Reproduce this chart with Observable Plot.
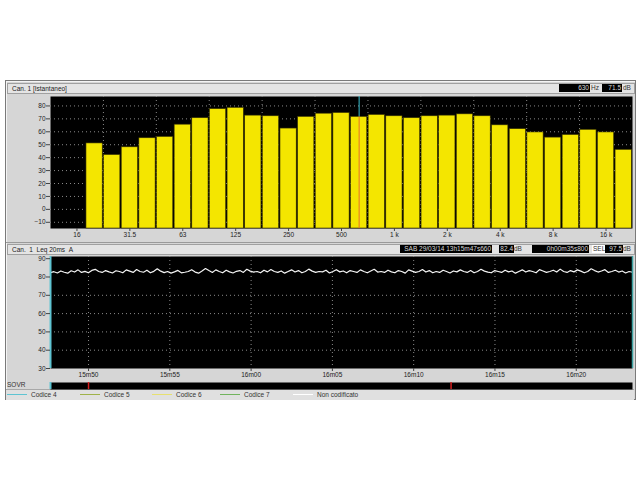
<!DOCTYPE html>
<html><head><meta charset="utf-8">
<script src="https://cdn.jsdelivr.net/npm/d3@7"></script>
<script src="https://cdn.jsdelivr.net/npm/@observablehq/plot@0.6"></script>
<style>
body{margin:0;background:#fff;width:640px;height:480px;overflow:hidden;position:relative;font-family:"Liberation Sans",Arial,sans-serif;color:#222;}
.abs{position:absolute;}
#win{left:5px;top:80px;width:629px;height:318px;background:#d6d6d6;border:1px solid #7a7a7a;box-shadow:inset 1px 1px 0 #f4f4f4;}
.hdr{height:9px;background:#e4e4e4;border:1px solid #a0a0a0;font-size:6.5px;line-height:9px;padding-left:4px;box-sizing:content-box;}
.box{background:#000;color:#d8d8d8;font-size:6.5px;line-height:8px;height:8px;text-align:right;padding-right:1px;box-sizing:border-box;}
.lbl{font-size:6.5px;line-height:8px;color:#333;}
.sep{left:6px;width:629px;height:1px;background:#9a9a9a;}
.leg{top:390px;height:9px;font-size:6.5px;line-height:9px;color:#333;}
.ln{height:1px;top:394px;}
</style>
</head><body>
<div id="win" class="abs"></div>
<div class="abs hdr" style="left:7px;top:83px;width:622px;">Can. 1 [Istantaneo]</div>
<div class="abs box" style="left:559px;top:84px;width:31px;">630</div>
<div class="abs lbl" style="left:591px;top:84px;">Hz</div>
<div class="abs box" style="left:602px;top:84px;width:20px;">71.5</div>
<div class="abs lbl" style="left:623px;top:84px;">dB</div>
<div class="abs sep" style="top:242px;"></div>
<div class="abs hdr" style="left:7px;top:244px;width:622px;">Can.&nbsp; 1 &nbsp;Leq 20ms &nbsp;A</div>
<div class="abs box" style="left:400px;top:245px;width:92px;">SAB 29/03/14 13h15m47s660</div>
<div class="abs box" style="left:499px;top:245px;width:15px;">82.4</div>
<div class="abs lbl" style="left:514px;top:245px;">dB</div>
<div class="abs box" style="left:532px;top:245px;width:57px;">0h00m35s800</div>
<div class="abs lbl" style="left:592px;top:245px;background:#fff;padding:0 1px;">SEL</div>
<div class="abs box" style="left:605px;top:245px;width:18px;">97.5</div>
<div class="abs lbl" style="left:623px;top:245px;">dB</div>
<div class="abs lbl" style="left:7px;top:381px;">SOVR</div>
<div class="abs" style="left:6px;top:389px;width:628px;height:10px;background:#e0e0e0;border-top:1px solid #a8a8a8;"></div>
<div id="legend"></div>
<div id="top" class="abs" style="left:5px;top:95px;"></div>
<div id="bottom" class="abs" style="left:5px;top:254px;"></div>
<div id="sovr" class="abs" style="left:5px;top:381px;"></div>
<script>
// ---- spectrum (1/3 octave) ----
const bands = ["12.5","16","20","25","31.5","40","50","63","80","100","125","160","200","250","315","400","500","630","800","1k","1.25k","1.6k","2k","2.5k","3.15k","4k","5k","6.3k","8k","10k","12.5k","16k","20k"];
const spectrumBands = ["20","25","31.5","40","50","63","80","100","125","160","200","250","315","400","500","630","800","1k","1.25k","1.6k","2k","2.5k","3.15k","4k","5k","6.3k","8k","10k","12.5k","16k","20k"];
const spectrumLevels = [51,42,48,55,56,65.5,70.5,77.5,78.5,72.5,72,62.5,71.5,74,74.5,71.5,73,72,70.5,72,72.5,73.5,72,65,62,59.5,55.5,57.5,61.5,59.5,46];
const freqTickBands = ["16","31.5","63","125","250","500","1k","2k","4k","8k","16k"];
const freqTickLabels = ["16","31.5","63","125","250","500","1 k","2 k","4 k","8 k","16 k"];
const freqGridBands = ["25","50","100","200","400","800","1.6k","3.15k","6.3k","12.5k"];
const levelTicks = [80,70,60,50,40,30,20,10,0,-10];
const levelDomain = [-14.8, 87.3];
const cursorBand = "630";
const cursorLevel = 71.5;

// ---- Leq 20ms time history ----
const leqStart = 47.66;      // seconds after 13h15m00s
const leqDuration = 35.8;
const leqValues = [
82.4,82.9,82.2,83.3,82.6,82.1,83.4,82.7,83.9,82.5,83.1,82.3,83.6,84.2,83.0,82.5,83.5,82.8,82.2,83.4,
83.0,82.3,83.9,83.2,82.5,84.1,83.0,82.6,83.7,82.3,83.1,84.5,83.2,82.4,83.0,82.1,82.8,83.6,82.3,82.6,
83.0,84.0,82.7,82.1,83.3,84.6,83.5,82.5,83.9,83.0,82.3,83.7,82.8,82.2,83.1,83.5,82.5,84.2,83.2,82.7,
83.0,82.3,83.7,82.8,84.1,83.0,82.5,83.3,82.1,83.0,83.9,82.7,83.5,82.3,83.0,84.3,83.2,82.5,83.0,82.8,
83.7,82.2,83.0,84.0,82.8,83.3,82.3,83.5,83.0,82.5,83.9,83.0,82.3,83.3,84.2,82.7,83.0,82.5,83.7,82.8,
82.3,83.5,83.0,82.1,83.9,83.2,82.5,83.0,84.1,82.7,83.5,82.3,83.0,82.5,83.7,83.0,82.2,83.3,82.8,83.9,
83.0,82.5,83.5,82.3,83.0,84.2,83.2,82.7,82.3,83.5,83.0,82.5,83.7,82.8,83.3,82.1,83.0,83.9,82.7,83.5,
83.0,82.3,84.0,83.3,82.5,83.0,83.7,82.7,84.3,83.0,82.5,83.5,82.8,83.9,83.2,82.3,83.0,84.5,83.5,82.7,
83.3,84.0,82.5,83.0,83.7,82.7,83.3,82.2,83.0,82.6];
const timeTicks = [50,55,60,65,70,75,80];
const timeTickLabels = ["15m50","15m55","16m00","16m05","16m10","16m15","16m20"];
const leqTicks = [90,80,70,60,50,40,30];
const leqGrid = [70,60,50,40];
const leqDomain = [30, 91.2];
const sovrTimes = [50.0, 72.3];

// ---- legend ----
const legendNames = ["Codice 4","Codice 5","Codice 6","Codice 7","Non codificato"];
const legendColors = ["#5ec4d2","#9fb24a","#e6e070","#72b45e","#ffffff"];

const font = {fontFamily:"Liberation Sans, Arial, sans-serif", fontSize:"6.5px", background:"transparent", color:"#222", overflow:"visible"};
const W = 631;

// Top: spectrum
const spec = spectrumBands.map((b, k) => ({i: bands.indexOf(b), v: spectrumLevels[k]}));
const ci = bands.indexOf(cursorBand);
const topPlot = Plot.plot({
  width: W, height: 147, marginLeft: 45, marginRight: 4, marginTop: 1, marginBottom: 14,
  style: font,
  x: {domain: [-0.5, bands.length - 0.5], label: null},
  y: {domain: levelDomain, label: null},
  marks: [
    Plot.frame({fill: "#000", stroke: null}),
    Plot.gridY(levelTicks, {stroke: "#8a8a8a", strokeOpacity: 1, strokeDasharray: "1,3"}),
    Plot.gridX(freqGridBands.map(b => bands.indexOf(b) - 0.5), {stroke: "#8a8a8a", strokeOpacity: 1, strokeDasharray: "1,3"}),
    Plot.rectY(spec, {x1: d => d.i - 0.46, x2: d => d.i + 0.46, y1: levelDomain[0], y2: "v", fill: "#f4e600", stroke: "#3a3500", strokeWidth: 0.6}),
    Plot.ruleX([ci], {y1: cursorLevel, y2: levelDomain[1], stroke: "#3cc0d0", strokeWidth: 1}),
    Plot.ruleX([ci], {y1: levelDomain[0], y2: cursorLevel, stroke: "#e8702a", strokeWidth: 1}),
    Plot.axisY(levelTicks, {tickSize: 4, tickPadding: 1, stroke: "#444", label: null}),
    Plot.axisX(freqTickBands.map(b => bands.indexOf(b)), {tickSize: 3, tickPadding: 1, stroke: "#444", label: null,
      tickFormat: d => freqTickLabels[freqTickBands.indexOf(bands[d])]})
  ]
});
document.getElementById("top").appendChild(topPlot);

// Bottom: Leq time history
const step = leqDuration / (leqValues.length - 1);
const leq = leqValues.map((v, k) => ({t: leqStart + k * step, v}));
const tEnd = leqStart + leqDuration;
const bottomPlot = Plot.plot({
  width: W, height: 126, marginLeft: 45, marginRight: 4, marginTop: 2, marginBottom: 12,
  style: font,
  x: {domain: [leqStart, tEnd], label: null},
  y: {domain: leqDomain, label: null},
  marks: [
    Plot.frame({fill: "#000", stroke: null}),
    Plot.gridY(leqGrid, {stroke: "#8a8a8a", strokeOpacity: 1, strokeDasharray: "1,3"}),
    Plot.gridX(timeTicks, {stroke: "#8a8a8a", strokeOpacity: 1, strokeDasharray: "1,3"}),
    Plot.line(leq, {x: "t", y: "v", stroke: "#f4f4f4", strokeWidth: 1.2}),
    Plot.ruleX([leqStart], {stroke: "#5ec4d2", strokeWidth: 2}),
    Plot.ruleX([tEnd], {stroke: "#3aa0a0", strokeWidth: 1.5}),
    Plot.axisY(leqTicks, {tickSize: 4, tickPadding: 1, stroke: "#444", label: null}),
    Plot.axisX(timeTicks, {tickSize: 3, tickPadding: 1, stroke: "#444", label: null,
      tickFormat: d => timeTickLabels[timeTicks.indexOf(d)]})
  ]
});
document.getElementById("bottom").appendChild(bottomPlot);

// SOVR strip
const sovrPlot = Plot.plot({
  width: W, height: 8, marginLeft: 45, marginRight: 4, marginTop: 1, marginBottom: 0,
  style: font,
  x: {domain: [leqStart, tEnd], axis: null},
  marks: [
    Plot.frame({fill: "#000", stroke: null}),
    Plot.ruleX(sovrTimes, {stroke: "#d42020", strokeWidth: 1.5}),
    Plot.ruleX([leqStart], {stroke: "#5ec4d2", strokeWidth: 2})
  ]
});
document.getElementById("sovr").appendChild(sovrPlot);

// Legend
const legX = [7, 80, 152, 220, 293];
const lg = document.getElementById("legend");
legendNames.forEach((n, k) => {
  const l = document.createElement("div");
  l.className = "abs ln";
  l.style.left = legX[k] + "px"; l.style.width = "20px"; l.style.background = legendColors[k];
  lg.appendChild(l);
  const t = document.createElement("div");
  t.className = "abs leg";
  t.style.left = (legX[k] + 24) + "px";
  t.textContent = n;
  lg.appendChild(t);
});
</script>
</body></html>
